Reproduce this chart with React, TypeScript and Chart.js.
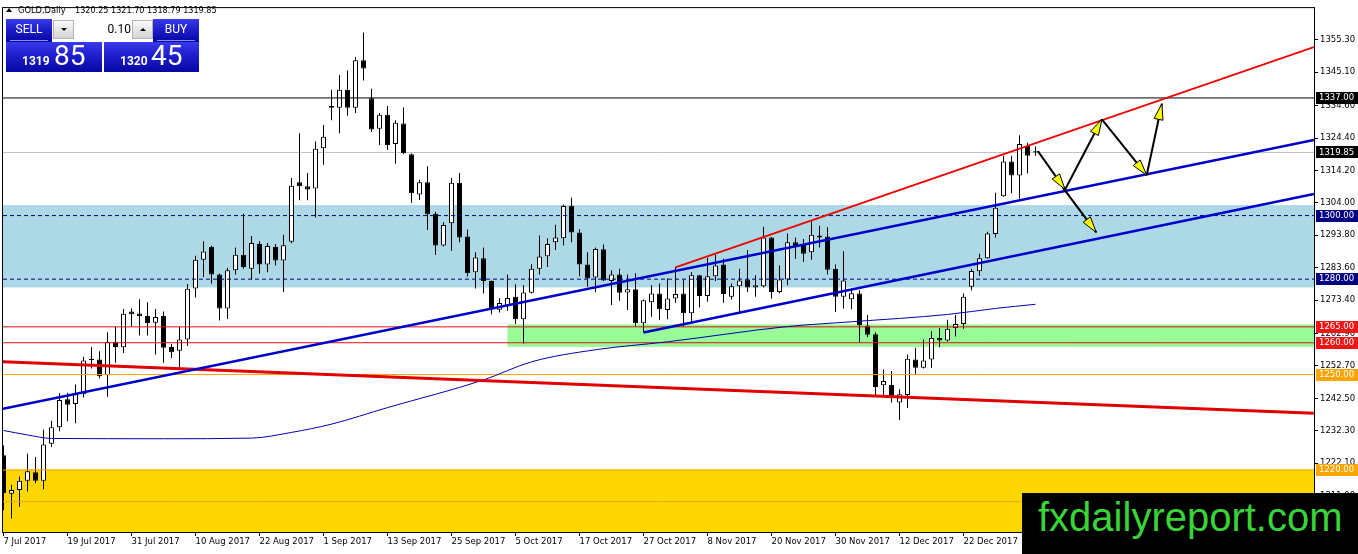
import React, { useEffect, useRef } from 'react';
import { Chart, registerables } from 'chart.js';

Chart.register(...registerables);

// ---- Candles (daily GOLD, 7 Jul 2017 .. 8 Jan 2018) ----
const opens = [
  1224.6, 1212.5, 1213.7, 1216.6, 1219.3, 1216.6, 1228.2, 1233.4, 1242.2, 1240.7,
  1243.8, 1255.0, 1254.7, 1249.8, 1260.2, 1258.6, 1269.8, 1269.2, 1268.5, 1266.3,
  1268.5, 1258.7, 1257.5, 1261.0, 1277.1, 1286.1, 1290.2, 1281.5, 1270.8, 1282.8,
  1287.7, 1283.3, 1291.1, 1284.6, 1290.2, 1285.9, 1291.8, 1310.5, 1309.2, 1308.5,
  1321.2, 1334.5, 1333.9, 1339.6, 1333.9, 1348.9, 1336.9, 1327.3, 1331.7, 1322.5,
  1329.0, 1319.3, 1306.6, 1310.5, 1300.6, 1290.6, 1297.6, 1310.3, 1293.4, 1282.2,
  1286.6, 1279.4, 1270.4, 1271.7, 1274.5, 1267.4, 1275.7, 1283.3, 1287.2, 1291.6,
  1292.9, 1303.0, 1294.7, 1284.6, 1280.5, 1289.4, 1279.4, 1281.5, 1275.8, 1276.8,
  1266.1, 1272.7, 1275.5, 1270.3, 1273.9, 1275.5, 1269.3, 1281.2, 1274.7, 1280.9,
  1284.6, 1274.5, 1277.8, 1279.9, 1277.4, 1277.8, 1293.1, 1276.0, 1279.9, 1291.6,
  1290.9, 1288.5, 1293.7, 1293.4, 1283.3, 1274.5, 1273.7, 1275.5, 1265.4, 1262.7,
  1246.6, 1246.7, 1241.2, 1243.6, 1254.7, 1252.1, 1254.7, 1261.5, 1260.7, 1264.6,
  1265.9, 1277.6, 1282.5, 1286.6, 1294.2, 1306.1, 1317.0, 1312.6, 1321.9, 1320.25,
];
const highs = [
  1227.7, 1215.3, 1217.9, 1225.1, 1224.1, 1232.6, 1235.5, 1244.2, 1244.3, 1246.9,
  1255.6, 1258.7, 1257.3, 1263.3, 1265.1, 1270.6, 1270.8, 1273.7, 1272.7, 1270.6,
  1269.8, 1259.6, 1265.0, 1278.5, 1287.4, 1291.9, 1290.5, 1281.8, 1283.6, 1290.0,
  1300.6, 1293.6, 1291.9, 1291.4, 1291.1, 1294.0, 1311.8, 1325.9, 1313.4, 1323.3,
  1328.5, 1339.6, 1344.2, 1345.6, 1349.9, 1357.6, 1339.9, 1332.3, 1334.5, 1330.0,
  1334.0, 1319.5, 1311.3, 1315.5, 1301.2, 1298.0, 1311.8, 1313.4, 1295.6, 1288.5,
  1290.0, 1279.6, 1274.0, 1281.5, 1278.4, 1278.1, 1284.8, 1293.7, 1292.9, 1297.1,
  1303.5, 1305.6, 1295.7, 1288.5, 1290.0, 1290.9, 1282.8, 1283.3, 1281.5, 1281.9,
  1273.6, 1278.1, 1278.6, 1280.2, 1283.8, 1279.9, 1282.2, 1281.4, 1286.7, 1287.7,
  1286.4, 1278.6, 1283.3, 1289.2, 1281.2, 1296.5, 1293.3, 1284.3, 1294.4, 1293.1,
  1292.6, 1298.3, 1296.8, 1296.3, 1284.6, 1288.8, 1277.1, 1276.5, 1268.7, 1263.3,
  1251.6, 1251.1, 1245.4, 1256.3, 1258.4, 1261.0, 1263.6, 1264.6, 1267.2, 1268.7,
  1275.5, 1283.3, 1288.0, 1294.9, 1307.2, 1318.8, 1318.8, 1325.3, 1322.9, 1321.7,
];
const lows = [
  1207.3, 1204.7, 1208.4, 1213.2, 1215.8, 1213.9, 1227.2, 1232.2, 1235.3, 1234.7,
  1242.8, 1251.9, 1248.8, 1243.0, 1253.7, 1256.8, 1265.1, 1262.3, 1262.3, 1256.3,
  1253.7, 1255.2, 1252.3, 1259.0, 1274.2, 1280.7, 1278.6, 1267.0, 1267.5, 1281.5,
  1283.3, 1279.9, 1281.7, 1282.2, 1284.3, 1276.0, 1291.3, 1304.8, 1304.8, 1299.4,
  1316.0, 1330.0, 1325.9, 1331.4, 1332.3, 1342.5, 1326.3, 1322.2, 1320.7, 1316.3,
  1319.4, 1304.0, 1304.9, 1295.5, 1287.6, 1290.3, 1288.9, 1291.6, 1280.8, 1277.1,
  1275.5, 1269.0, 1269.5, 1270.1, 1265.9, 1259.7, 1275.5, 1281.5, 1283.8, 1289.2,
  1290.6, 1291.6, 1280.9, 1277.6, 1276.0, 1279.4, 1271.9, 1273.2, 1270.3, 1265.1,
  1263.2, 1268.2, 1267.2, 1267.4, 1272.6, 1265.1, 1266.1, 1271.1, 1272.9, 1279.4,
  1272.6, 1273.6, 1269.5, 1276.0, 1274.5, 1277.4, 1273.9, 1275.5, 1278.1, 1286.4,
  1285.4, 1286.1, 1290.0, 1281.5, 1269.7, 1270.8, 1270.5, 1260.2, 1261.7, 1243.0,
  1243.0, 1241.2, 1235.7, 1239.5, 1250.1, 1251.9, 1252.1, 1258.6, 1260.4, 1262.0,
  1264.4, 1276.5, 1281.0, 1286.4, 1293.1, 1305.9, 1307.0, 1305.3, 1313.2, 1318.79,
];
const closes = [
  1212.7, 1213.7, 1216.6, 1219.6, 1216.6, 1228.0, 1233.4, 1242.0, 1240.5, 1243.8,
  1254.4, 1254.6, 1249.5, 1260.2, 1258.7, 1269.1, 1269.0, 1268.3, 1266.1, 1268.1,
  1258.4, 1257.0, 1261.0, 1277.0, 1286.1, 1288.7, 1281.5, 1270.8, 1282.8, 1287.7,
  1283.8, 1291.4, 1284.6, 1290.4, 1285.9, 1290.7, 1309.4, 1309.2, 1308.2, 1321.0,
  1324.8, 1333.9, 1339.6, 1333.9, 1348.9, 1346.3, 1327.1, 1331.7, 1322.1, 1329.2,
  1319.6, 1307.0, 1310.5, 1300.4, 1290.6, 1297.0, 1310.3, 1293.1, 1281.9, 1286.8,
  1279.4, 1270.9, 1272.5, 1274.1, 1267.4, 1275.8, 1283.3, 1287.1, 1291.1, 1293.1,
  1303.0, 1294.7, 1284.6, 1280.2, 1289.5, 1279.6, 1281.5, 1275.7, 1276.8, 1266.1,
  1273.4, 1275.5, 1270.5, 1273.9, 1275.3, 1269.3, 1281.2, 1274.7, 1280.9, 1284.3,
  1275.3, 1277.8, 1279.6, 1277.4, 1278.1, 1293.1, 1276.0, 1279.9, 1291.6, 1290.2,
  1288.0, 1294.0, 1293.1, 1283.0, 1274.5, 1279.6, 1275.6, 1265.4, 1262.5, 1246.1,
  1248.0, 1242.6, 1243.8, 1255.0, 1252.1, 1254.4, 1261.5, 1260.7, 1264.4, 1265.9,
  1274.5, 1282.6, 1286.6, 1294.4, 1302.5, 1317.0, 1312.6, 1322.5, 1318.8, 1319.85,
];

// ---- Axis labels ----
const dateTickIndex = [0, 8, 16, 24, 32, 40, 48, 56, 64, 72, 80, 88, 96, 104, 112, 120, 128];
const dateTickLabels = [
  '7 Jul 2017', '19 Jul 2017', '31 Jul 2017', '10 Aug 2017', '22 Aug 2017', '1 Sep 2017',
  '13 Sep 2017', '25 Sep 2017', '5 Oct 2017', '17 Oct 2017', '27 Oct 2017', '8 Nov 2017',
  '20 Nov 2017', '30 Nov 2017', '12 Dec 2017', '22 Dec 2017', '5 Jan 2018',
];
const priceTicks = [
  1355.3, 1345.1, 1334.6, 1324.4, 1314.2, 1304.0, 1293.8, 1283.6, 1273.4, 1262.9,
  1252.7, 1242.5, 1232.3, 1222.1, 1211.9,
];

// ---- Moving average (read points: bar index / value) ----
const maIndex = [0, 3, 6, 20, 31, 36, 41, 48, 60, 66, 74, 83, 98, 106, 118, 124, 129];
const maValues = [
  1232.4, 1231.0, 1229.9, 1229.8, 1230.0, 1231.8, 1234.4, 1239.6, 1248.3, 1254.0,
  1257.8, 1260.3, 1265.1, 1266.6, 1268.9, 1270.8, 1272.1,
];

// ---- Horizontal levels ----
const hLevels = [1337, 1319.85, 1300, 1280, 1265, 1260, 1250, 1220, 1210];
const hLevelColors = ['#000000', '#C0C0C0', '#000080', '#000080', '#E01010', '#E01010', '#FFA500', '#F0A000', '#E8A820'];
const hLevelDashed = [false, false, true, true, false, false, false, false, false];

// ---- Axis tags ----
const axisTags = [1337, 1319.85, 1300, 1280, 1265, 1260, 1250, 1220];
const axisTagColors = ['#000000', '#000000', '#000080', '#000080', '#F01414', '#F01414', '#FFA500', '#FFA500'];

// ---- Zones ----
const blueZone = [1303.3, 1277.4];
const greenZone = [1265.8, 1258.7];
const greenZoneStart = 63.0;
const yellowZoneTop = 1220.1;

// ---- Trend lines: [index, value] pairs ----
const blueUpperLine = [[-0.0625, 1239.2], [163.8, 1323.8]];
const blueLowerLine = [[80, 1263.2], [163.8, 1306.8]];
const redUpperLine = [[84, 1283.7], [163.8, 1353.0]];
const redLowerLine = [[-0.0625, 1254.0], [163.8, 1237.8]];

// ---- Arrows: [fromIndex, fromValue, toIndex, toValue] ----
const arrowSegments = [
  [129.3, 1320.3, 132.7, 1308.2],
  [132.7, 1308.2, 137.3, 1330.3],
  [137.3, 1330.3, 142.9, 1312.7],
  [142.9, 1312.7, 144.8, 1335.2],
  [132.4, 1308.9, 136.6, 1294.7],
];

const X_MIN = -0.0625;
const X_MAX = 163.8125;
const Y_MIN = 1200.47;
const Y_MAX = 1365.58;

const AXIS_FONT = { family: '"DejaVu Sans", sans-serif', size: 8.5 };

export default function App() {
  const ref = useRef<HTMLCanvasElement | null>(null);

  useEffect(() => {
    const canvas = ref.current;
    if (!canvas) return;
    const idx = opens.map((_, i) => i);
    const wickData = idx.map((i) => ({ x: i, y: [lows[i], highs[i]] }));
    const bodyData = idx.map((i) => ({ x: i, y: [opens[i], closes[i]] }));
    const bodyColors = idx.map((i) => (closes[i] >= opens[i] ? '#FFFFFF' : '#000000'));
    const pts = (p: number[][]) => p.map((q) => ({ x: q[0], y: q[1] }));
    const hl = (v: number) => [{ x: X_MIN, y: v }, { x: X_MAX, y: v }];

    const datasets: any[] = [
      {
        type: 'bar', data: wickData, backgroundColor: '#000000', borderWidth: 0,
        grouped: false, maxBarThickness: 1, inflateAmount: 0, order: 20,
      },
      {
        type: 'bar', data: bodyData, backgroundColor: bodyColors, borderColor: '#000000',
        borderWidth: 1, borderSkipped: false, grouped: false, maxBarThickness: 5,
        inflateAmount: 0, minBarLength: 1, order: 19,
      },
      ...hLevels.map((v, k) => ({
        type: 'line', data: hl(v), borderColor: hLevelColors[k], borderWidth: 1,
        borderDash: hLevelDashed[k] ? [4, 3] : [], pointRadius: 0,
        order: k === 1 ? 25 : 10,
      })),
      {
        type: 'line', data: maIndex.map((x, k) => ({ x, y: maValues[k] })), borderColor: '#0000B0',
        borderWidth: 1, pointRadius: 0, cubicInterpolationMode: 'monotone', order: 8,
      },
      { type: 'line', data: pts(redLowerLine), borderColor: '#E00000', borderWidth: 3, pointRadius: 0, order: 6 },
      { type: 'line', data: pts(blueUpperLine), borderColor: '#0000CD', borderWidth: 2.5, pointRadius: 0, order: 5 },
      { type: 'line', data: pts(blueLowerLine), borderColor: '#0000CD', borderWidth: 2.5, pointRadius: 0, order: 5 },
      { type: 'line', data: pts(redUpperLine), borderColor: '#F00000', borderWidth: 2, pointRadius: 0, order: 4 },
      ...arrowSegments.map((s) => ({
        type: 'line', data: [{ x: s[0], y: s[1] }, { x: s[2], y: s[3] }], borderColor: '#000000',
        borderWidth: 2, pointRadius: 0, order: 2,
      })),
    ];

    const zonesPlugin = {
      id: 'zones',
      beforeDatasetsDraw(chart: any) {
        const { ctx, chartArea: a, scales } = chart;
        const x = scales.x;
        const y = scales.y;
        ctx.save();
        ctx.beginPath();
        ctx.rect(a.left, a.top, a.right - a.left, a.bottom - a.top);
        ctx.clip();
        const bt = y.getPixelForValue(blueZone[0]);
        const bb = y.getPixelForValue(blueZone[1]);
        ctx.fillStyle = '#ADD8E6';
        ctx.fillRect(a.left, bt, a.right - a.left, bb - bt);
        const gt = y.getPixelForValue(greenZone[0]);
        const gb = y.getPixelForValue(greenZone[1]);
        const gx = x.getPixelForValue(greenZoneStart);
        ctx.fillStyle = '#98FB98';
        ctx.fillRect(gx, gt, a.right - gx, gb - gt);
        const yt = y.getPixelForValue(yellowZoneTop);
        ctx.fillStyle = '#FFD700';
        ctx.fillRect(a.left, yt, a.right - a.left, a.bottom - yt);
        ctx.restore();
      },
    };

    const arrowHeadPlugin = {
      id: 'arrowHeads',
      afterDatasetsDraw(chart: any) {
        const { ctx, chartArea: a, scales } = chart;
        const x = scales.x;
        const y = scales.y;
        ctx.save();
        ctx.beginPath();
        ctx.rect(a.left, a.top, a.right - a.left, a.bottom - a.top);
        ctx.clip();
        arrowSegments.forEach((s) => {
          const x1 = x.getPixelForValue(s[0]);
          const y1 = y.getPixelForValue(s[1]);
          const x2 = x.getPixelForValue(s[2]);
          const y2 = y.getPixelForValue(s[3]);
          const ang = Math.atan2(y2 - y1, x2 - x1);
          const L = 16;
          const W = 4.5;
          const bx = x2 - L * Math.cos(ang);
          const by = y2 - L * Math.sin(ang);
          const px = -Math.sin(ang) * W;
          const py = Math.cos(ang) * W;
          ctx.beginPath();
          ctx.moveTo(x2, y2);
          ctx.lineTo(bx + px, by + py);
          ctx.lineTo(bx - px, by - py);
          ctx.closePath();
          ctx.fillStyle = '#FFFF00';
          ctx.fill();
          ctx.strokeStyle = '#000000';
          ctx.lineWidth = 1;
          ctx.stroke();
        });
        ctx.restore();
      },
    };

    const framePlugin = {
      id: 'frameAndTags',
      afterDraw(chart: any) {
        const { ctx, chartArea: a, scales } = chart;
        const y = scales.y;
        ctx.save();
        ctx.strokeStyle = '#000000';
        ctx.lineWidth = 1;
        ctx.strokeRect(a.left - 0.5, a.top + 0.5, a.right - a.left + 1, a.bottom - a.top);
        ctx.font = '8.5px "DejaVu Sans", sans-serif';
        ctx.textBaseline = 'middle';
        ctx.textAlign = 'left';
        axisTags.forEach((v, k) => {
          const py = y.getPixelForValue(v);
          ctx.fillStyle = axisTagColors[k];
          ctx.fillRect(a.right + 2, Math.round(py) - 6, 42, 12);
          ctx.fillStyle = '#FFFFFF';
          ctx.fillText(v.toFixed(2), a.right + 5, py);
        });
        ctx.restore();
      },
    };

    const chart = new Chart(canvas, {
      type: 'bar',
      data: { datasets },
      options: {
        responsive: false,
        maintainAspectRatio: false,
        animation: false,
        events: [],
        layout: { padding: { left: 3, top: 2, right: 0, bottom: 0 } },
        plugins: { legend: { display: false }, tooltip: { enabled: false } },
        scales: {
          x: {
            type: 'linear',
            min: X_MIN,
            max: X_MAX,
            offset: false,
            afterBuildTicks: (s: any) => { s.ticks = dateTickIndex.map((v) => ({ value: v })); },
            afterFit: (s: any) => { s.height = 22; },
            ticks: {
              autoSkip: false, maxRotation: 0, minRotation: 0, align: 'start', padding: 1,
              color: '#000000', font: AXIS_FONT,
              callback: (_v: any, i: number) => dateTickLabels[i],
            },
            grid: { drawOnChartArea: false, drawTicks: true, tickLength: 4, color: '#000000', offset: false },
            border: { display: false },
          },
          y: {
            type: 'linear',
            position: 'right',
            min: Y_MIN,
            max: Y_MAX,
            afterBuildTicks: (s: any) => { s.ticks = priceTicks.map((v) => ({ value: v })); },
            afterFit: (s: any) => { s.width = 44; },
            ticks: {
              autoSkip: false, padding: 2, color: '#000000', font: AXIS_FONT,
              callback: (v: any) => Number(v).toFixed(2),
            },
            grid: { drawOnChartArea: false, drawTicks: true, tickLength: 4, color: '#000000' },
            border: { display: false },
          },
        },
      } as any,
      plugins: [zonesPlugin, arrowHeadPlugin, framePlugin],
    });
    return () => chart.destroy();
  }, []);

  const grad = 'linear-gradient(to bottom, #3a3aee 0%, #1e1ecc 45%, #0707a2 100%)';
  const btnGrad = 'linear-gradient(to bottom, #fafafa 0%, #d4d4d4 100%)';
  const roboto = 'Roboto, "Noto Sans", sans-serif';

  return (
    <div style={{ position: 'absolute', left: 0, top: 0, width: 1358, height: 554, overflow: 'hidden', background: '#ffffff' }}>
      <canvas ref={ref} width={1358} height={554} style={{ display: 'block', width: 1358, height: 554 }} />

      {/* header */}
      <div style={{ position: 'absolute', left: 6, top: 8, width: 0, height: 0, borderLeft: '3px solid transparent', borderRight: '3px solid transparent', borderBottom: '4px solid #000' }} />
      <span style={{ position: 'absolute', left: 18, top: 5, font: '8.3px "DejaVu Sans", sans-serif', lineHeight: '10px', color: '#000', whiteSpace: 'nowrap' }}>GOLD,Daily</span>
      <span style={{ position: 'absolute', left: 75, top: 5, font: '8.1px "DejaVu Sans", sans-serif', lineHeight: '10px', color: '#000', whiteSpace: 'nowrap' }}>1320.25 1321.70 1318.79 1319.85</span>

      {/* SELL button */}
      <div style={{ position: 'absolute', left: 6, top: 19, width: 46, height: 23, background: grad, color: '#fff', font: `12px ${roboto}`, lineHeight: '21px', textAlign: 'center' }}>
        SELL
        <div style={{ position: 'absolute', left: 4, right: 4, top: 21, height: 1, background: '#8c8cff' }} />
      </div>
      {/* lot control */}
      <div style={{ position: 'absolute', left: 53, top: 19, width: 100, height: 23, background: '#ffffff' }}>
        <div style={{ position: 'absolute', left: 0, top: 1, width: 19, height: 17, background: btnGrad, border: '1px solid #b4b4b4' }}>
          <div style={{ position: 'absolute', left: 7, top: 7, width: 0, height: 0, borderLeft: '3px solid transparent', borderRight: '3px solid transparent', borderTop: '3px solid #000' }} />
        </div>
        <div style={{ position: 'absolute', left: 21, top: 1, width: 57, height: 19, font: `12px ${roboto}`, lineHeight: '19px', textAlign: 'right', color: '#000' }}>0.10</div>
        <div style={{ position: 'absolute', left: 79, top: 1, width: 19, height: 17, background: btnGrad, border: '1px solid #b4b4b4' }}>
          <div style={{ position: 'absolute', left: 7, top: 7, width: 0, height: 0, borderLeft: '3px solid transparent', borderRight: '3px solid transparent', borderBottom: '3px solid #000' }} />
        </div>
      </div>
      {/* BUY button */}
      <div style={{ position: 'absolute', left: 153, top: 19, width: 46, height: 23, background: grad, color: '#fff', font: `12px ${roboto}`, lineHeight: '21px', textAlign: 'center' }}>
        BUY
        <div style={{ position: 'absolute', left: 4, right: 4, top: 21, height: 1, background: '#8c8cff' }} />
      </div>
      {/* price boxes */}
      <div style={{ position: 'absolute', left: 6, top: 42, width: 96, height: 30, background: grad, color: '#fff' }}>
        <span style={{ position: 'absolute', left: 16, top: 13, font: `bold 12px ${roboto}`, lineHeight: '12px' }}>1319</span>
        <span style={{ position: 'absolute', left: 48, top: 0, font: `28px ${roboto}`, lineHeight: '28px' }}>85</span>
      </div>
      <div style={{ position: 'absolute', left: 104, top: 42, width: 95, height: 30, background: grad, color: '#fff' }}>
        <span style={{ position: 'absolute', left: 16, top: 13, font: `bold 12px ${roboto}`, lineHeight: '12px' }}>1320</span>
        <span style={{ position: 'absolute', left: 47, top: 0, font: `28px ${roboto}`, lineHeight: '28px' }}>45</span>
      </div>

      {/* watermark */}
      <div style={{ position: 'absolute', left: 1022, top: 493, width: 336, height: 61, background: '#000000' }}>
        <span style={{ position: 'absolute', left: 16, top: 4, font: '40px "Liberation Sans", Arial, sans-serif', lineHeight: '40px', color: '#38d438', whiteSpace: 'nowrap' }}>fxdailyreport.com</span>
      </div>
    </div>
  );
}
